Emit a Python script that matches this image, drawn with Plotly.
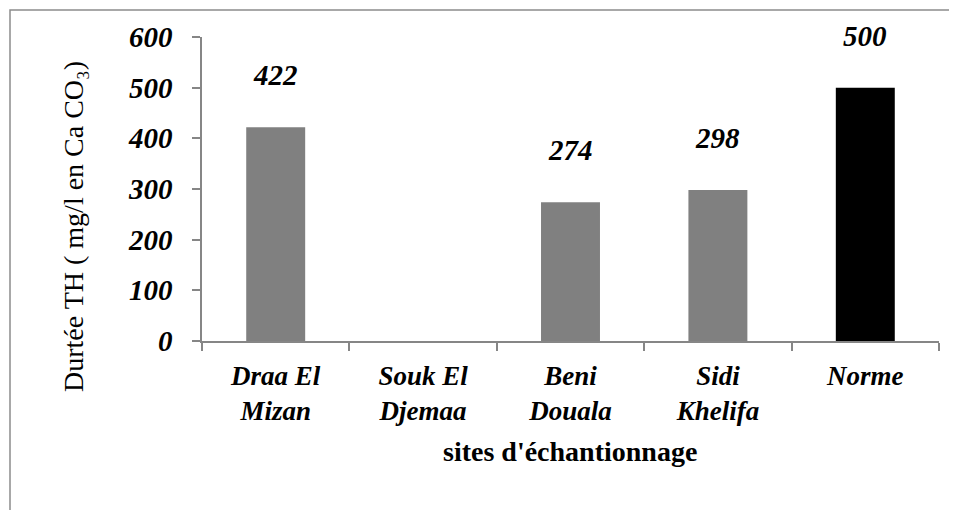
import plotly.graph_objects as go

categories = ["Draa El<br>Mizan", "Souk El<br>Djemaa", "Beni<br>Douala", "Sidi<br>Khelifa", "Norme"]
values = [422, None, 274, 298, 500]
bar_colors = ["#808080", "#808080", "#808080", "#808080", "#000000"]
y_ticks = [0, 100, 200, 300, 400, 500, 600]

# page has an 8px default body margin, so the figure is laid out 8px smaller
W, H = 949, 502
L, R, T, B = 194, 18, 29, 169
pw, ph = W - L - R, H - T - B

font_family = "Times New Roman"

fig = go.Figure()
fig.add_trace(go.Bar(
    x=categories, y=values,
    marker=dict(color=bar_colors, line=dict(width=0)),
    width=0.4,
    hoverinfo="x+y",
))

for c, v in zip(categories, values):
    if v is None:
        continue
    fig.add_annotation(
        x=c, y=v, xref="x", yref="y",
        text=f"<b><i>{v}</i></b>", showarrow=False,
        yanchor="middle", yshift=52,
        font=dict(family=font_family, size=29, color="#000000"),
    )

# y-axis title as rotated annotation
fig.add_annotation(
    xref="paper", yref="paper",
    x=(65 - L) / pw, y=(H - B - 219) / ph,
    text="Durtée TH ( mg/l en Ca CO₃)", textangle=-90, showarrow=False,
    xanchor="center", yanchor="middle",
    font=dict(family=font_family, size=28, color="#000000"),
)

# x-axis title
fig.add_annotation(
    xref="paper", yref="paper",
    x=(562 - L) / pw, y=(H - B - 443) / ph,
    text="<b>sites d'échantionnage</b>", showarrow=False,
    xanchor="center", yanchor="middle",
    font=dict(family=font_family, size=28, color="#000000"),
)

# outer chart frame
fig.add_shape(
    type="rect", xref="paper", yref="paper",
    x0=(2 - L) / pw, x1=(W + 30 - L) / pw,
    y0=(H - B - (H + 30)) / ph, y1=(H - B - 2) / ph,
    line=dict(color="#8c8c8c", width=1.5), fillcolor="rgba(0,0,0,0)",
    layer="below",
)

fig.update_layout(
    width=W, height=H,
    margin=dict(l=L, r=R, t=T, b=B, autoexpand=False),
    paper_bgcolor="white", plot_bgcolor="white",
    showlegend=False,
    font=dict(family=font_family, color="#000000"),
    xaxis=dict(
        showline=True, linecolor="#868686", linewidth=1.5,
        ticks="outside", ticklen=8, tickcolor="#868686", tickwidth=1.5,
        tickson="boundaries", ticklabelstandoff=10,
        tickfont=dict(family=font_family, size=27, color="#000000", style="italic", weight="bold"),
        showgrid=False, zeroline=False, fixedrange=True,
    ),
    yaxis=dict(
        range=[0, 600], tickvals=y_ticks,
        showline=True, linecolor="#868686", linewidth=1.5,
        ticks="outside", ticklen=8, tickcolor="#868686", tickwidth=1.5,
        ticklabelstandoff=14,
        tickfont=dict(family=font_family, size=29, color="#000000", style="italic", weight="bold"),
        showgrid=False, zeroline=False, fixedrange=True,
    ),
)

fig.write_html("out.html")
